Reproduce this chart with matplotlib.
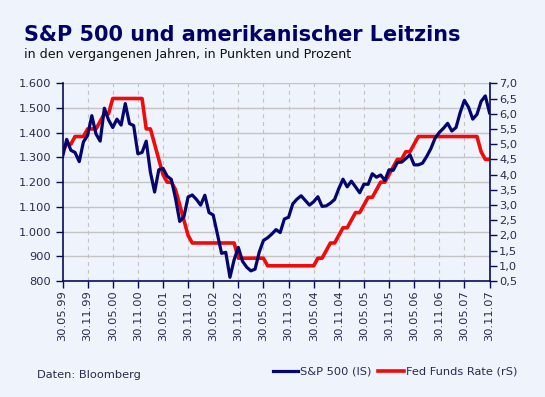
import matplotlib
matplotlib.use("Agg")
import matplotlib.pyplot as plt
from matplotlib.ticker import FixedLocator, FuncFormatter
import numpy as np

# --- data (month-end values, May 1999 .. Nov 2007) ---
sp500 = [
    1302, 1373, 1329, 1320, 1283, 1363, 1389, 1469,
    1395, 1366, 1499, 1452, 1421, 1455, 1431, 1518, 1437, 1429, 1315, 1320,
    1366, 1240, 1160, 1250, 1256, 1224, 1211, 1134, 1041, 1060, 1140, 1148,
    1130, 1107, 1147, 1077, 1067, 990, 912, 916, 815, 886, 936, 880,
    856, 841, 848, 917, 964, 975, 990, 1008, 996, 1051, 1058, 1112,
    1131, 1145, 1126, 1107, 1121, 1141, 1102, 1104, 1115, 1130, 1174, 1212,
    1181, 1204, 1181, 1157, 1192, 1191, 1234, 1220, 1229, 1207, 1250, 1248,
    1280, 1281, 1295, 1311, 1270, 1270, 1277, 1304, 1336, 1378, 1401, 1418,
    1438, 1407, 1421, 1482, 1531, 1503, 1455, 1474, 1527, 1549, 1481,
]
fed_funds = [
    4.75, 5.00, 5.00, 5.25, 5.25, 5.25, 5.50, 5.50,
    5.50, 5.75, 6.00, 6.00, 6.50, 6.50, 6.50, 6.50, 6.50, 6.50, 6.50, 6.50,
    5.50, 5.50, 5.00, 4.50, 4.00, 3.75, 3.75, 3.50, 3.00, 2.50, 2.00, 1.75,
    1.75, 1.75, 1.75, 1.75, 1.75, 1.75, 1.75, 1.75, 1.75, 1.75, 1.25, 1.25,
    1.25, 1.25, 1.25, 1.25, 1.25, 1.00, 1.00, 1.00, 1.00, 1.00, 1.00, 1.00,
    1.00, 1.00, 1.00, 1.00, 1.00, 1.25, 1.25, 1.50, 1.75, 1.75, 2.00, 2.25,
    2.25, 2.50, 2.75, 2.75, 3.00, 3.25, 3.25, 3.50, 3.75, 3.75, 4.00, 4.25,
    4.50, 4.50, 4.75, 4.75, 5.00, 5.25, 5.25, 5.25, 5.25, 5.25, 5.25, 5.25,
    5.25, 5.25, 5.25, 5.25, 5.25, 5.25, 5.25, 5.25, 4.75, 4.50, 4.50,
]
x_labels = ["30.05.99", "30.11.99", "30.05.00", "30.11.00", "30.05.01", "30.11.01",
            "30.05.02", "30.11.02", "30.05.03", "30.11.03", "30.05.04", "30.11.04",
            "30.05.05", "30.11.05", "30.05.06", "30.11.06", "30.05.07", "30.11.07"]
left_ticks = [800, 900, 1000, 1100, 1200, 1300, 1400, 1500, 1600]
right_ticks = [0.5, 1.0, 1.5, 2.0, 2.5, 3.0, 3.5, 4.0, 4.5, 5.0, 5.5, 6.0, 6.5, 7.0]

BG = "#eef3fc"
NAVY = "#05056e"
RED = "#f00a0a"
AXC = "#0a0a5a"
TXT = "#2a2a4a"
GRID = "#c4c4c4"

plt.rcParams['font.family'] = ['DejaVu Sans']

fig = plt.figure(figsize=(5.45, 3.97), dpi=100, facecolor=BG)
W, H = 545, 397
ax = fig.add_axes([62.5 / W, 1 - 281 / H, 427 / W, 197.7 / H])
ax2 = ax.twinx()

months = np.arange(len(sp500))
ax.set_xlim(0, len(sp500) - 1)
ax.set_ylim(800, 1600)
ax2.set_ylim(0.5, 7.0)

xt = np.arange(0, len(sp500), 6)
ax.set_xticks(xt)
ax.yaxis.set_major_locator(FixedLocator(left_ticks))

# background + grid drawn on the lower (twin) axes
ax.set_zorder(ax2.get_zorder() + 1)
ax.patch.set_visible(False)
ax2.patch.set_visible(True)
ax2.patch.set_facecolor(BG)
for yv in left_ticks[1:]:
    ax2.axhline(0.5 + (yv - 800) / 800 * 6.5, color=GRID, linewidth=1.0, zorder=0.4)
for xv in xt[1:-1]:
    ax2.axvline(xv, color=GRID, linewidth=0.8, linestyle=(0, (3.5, 3.5)), zorder=0.4)

l2, = ax2.plot(months, fed_funds, color=RED, linewidth=2.6, solid_joinstyle='round',
               solid_capstyle='round', zorder=2)
l1, = ax.plot(months, sp500, color=NAVY, linewidth=2.3, solid_joinstyle='round', zorder=3)

ax.yaxis.set_major_formatter(FuncFormatter(lambda v, p: f"{int(v):,}".replace(",", ".")))
ax2.yaxis.set_major_locator(FixedLocator(right_ticks))
ax2.yaxis.set_major_formatter(FuncFormatter(lambda v, p: f"{v:.1f}".replace(".", ",")))
ax.set_xticklabels(x_labels, rotation=90, fontsize=8.2, color=TXT)

for a in (ax, ax2):
    for s in a.spines.values():
        s.set_visible(False)
ax.spines['left'].set_visible(True)
ax.spines['bottom'].set_visible(True)
ax2.spines['right'].set_visible(True)
for s in (ax.spines['left'], ax.spines['bottom'], ax2.spines['right']):
    s.set_color(AXC)
    s.set_linewidth(1.2)

ax.tick_params(axis='y', colors=AXC, labelcolor=TXT, labelsize=8.2, length=5, width=1, pad=3)
ax.tick_params(axis='x', colors=AXC, labelcolor=TXT, labelsize=8.2, length=5, width=1, pad=2)
ax2.tick_params(axis='y', colors=AXC, labelcolor=TXT, labelsize=8.2, length=5, width=1, pad=2)

fig.text(24 / W, 1 - 41 / H, "S&P 500 und amerikanischer Leitzins", fontsize=14.95,
         fontweight='bold', color='#000066', ha='left', va='baseline')
fig.text(24 / W, 1 - 58 / H, "in den vergangenen Jahren, in Punkten und Prozent",
         fontsize=9.1, color='#111111', ha='left', va='baseline')
fig.text(37 / W, 1 - 374.5 / H, "Daten: Bloomberg", fontsize=8.2, color=TXT,
         ha='left', va='center')

# legend
y_leg = 1 - 371 / H
fig.add_artist(plt.Line2D([273 / W, 298 / W], [y_leg, y_leg], color=NAVY, linewidth=2.3))
fig.text(300 / W, y_leg, "S&P 500 (lS)", fontsize=8.2, color=TXT, ha='left', va='center')
fig.add_artist(plt.Line2D([378 / W, 404 / W], [y_leg, y_leg], color=RED, linewidth=2.6))
fig.text(406 / W, y_leg, "Fed Funds Rate (rS)", fontsize=8.2, color=TXT, ha='left', va='center')

fig.savefig("out.png", dpi=100, facecolor=BG)
